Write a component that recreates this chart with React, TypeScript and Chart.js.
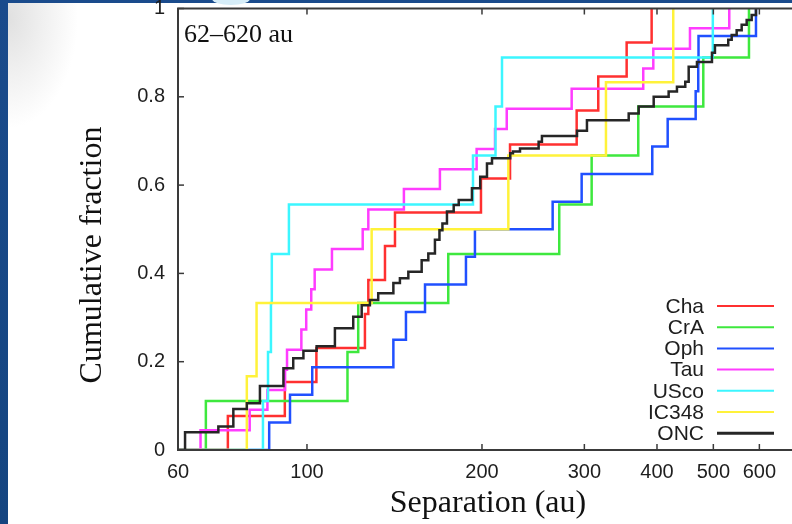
import React, { useEffect, useRef } from "react";
import { Chart, registerables } from "chart.js";

Chart.register(...registerables);

// ---- axis ticks ----
const xTickValues = [60, 100, 200, 300, 400, 500, 600];
const yTickValues = [0, 0.2, 0.4, 0.6, 0.8, 1];
const yTickLabels = ["0", "0.2", "0.4", "0.6", "0.8", "1"];
const xMin = 60;
const xMax = 720;

// ---- series ----
const seriesNames = ["Cha", "CrA", "Oph", "Tau", "USco", "IC348", "ONC"];
const seriesColors = ["#ff3030", "#3ee83e", "#2050ff", "#ff3cff", "#3cf6ff", "#fff23a", "#262626"];

const chaSep = [73.1, 91.6, 103.8, 125.8, 127.5, 136.2, 141.7, 199.2, 223.5, 291.0, 317.0, 354.7, 391.6];
const chaFrac = [0.077, 0.154, 0.231, 0.308, 0.385, 0.462, 0.538, 0.615, 0.692, 0.769, 0.846, 0.923, 1.0];

const craSep = [67.0, 117.4, 122.5, 175.0, 271.6, 308.8, 371.4, 480.5, 575.8];
const craFrac = [0.111, 0.222, 0.333, 0.444, 0.556, 0.667, 0.778, 0.889, 1.0];

const ophSep = [86.1, 93.5, 102.1, 140.8, 148.0, 159.6, 187.7, 194.5, 264.6, 296.8, 392.6, 417.3, 466.2, 471.0, 471.5, 592.0];
const ophFrac = [0.0625, 0.125, 0.1875, 0.25, 0.3125, 0.375, 0.4375, 0.5, 0.5625, 0.625, 0.6875, 0.75, 0.8125, 0.875, 0.9375, 1.0];

const tauSep = [65.6, 79.7, 85.5, 91.7, 92.4, 97.8, 99.7, 101.7, 103.1, 110.4, 124.7, 127.5, 146.8, 169.3, 195.8, 210.6, 220.6, 285.3, 378.8, 394.2, 455.8, 532.6];
const tauFrac = [0.045, 0.091, 0.136, 0.182, 0.227, 0.273, 0.318, 0.364, 0.409, 0.455, 0.5, 0.545, 0.591, 0.636, 0.682, 0.727, 0.773, 0.818, 0.864, 0.909, 0.955, 1.0];

const uscoSep = [84.0, 85.7, 86.7, 87.0, 93.1, 193.0, 211.0, 216.5, 499.0];
const uscoFrac = [0.111, 0.222, 0.333, 0.444, 0.556, 0.667, 0.778, 0.889, 1.0];

const ic348Sep = [78.8, 81.9, 129.2, 222.0, 326.8, 426.6];
const ic348Frac = [0.167, 0.333, 0.5, 0.667, 0.833, 1.0];

const oncSep = [61.7, 70.4, 74.7, 78.8, 83.0, 91.1, 94.7, 98.6, 103.9, 111.7, 120.1, 124.2, 128.3, 132.6, 140.8, 144.5, 149.4, 157.5, 161.7, 166.0, 169.0, 171.0, 174.1, 178.8, 182.4, 192.2, 198.6, 204.0, 208.1, 223.7, 226.1, 232.5, 250.3, 253.6, 291.4, 303.1, 357.6, 372.0, 394.8, 418.9, 432.9, 447.4, 453.5, 468.6, 497.3, 503.2, 530.4, 537.7, 548.4, 559.4, 570.6, 582.0, 592.0];
const oncFrac = [0.040, 0.053, 0.093, 0.106, 0.145, 0.185, 0.208, 0.225, 0.235, 0.276, 0.302, 0.328, 0.340, 0.355, 0.378, 0.389, 0.404, 0.430, 0.445, 0.476, 0.498, 0.513, 0.540, 0.555, 0.566, 0.593, 0.619, 0.649, 0.661, 0.672, 0.676, 0.683, 0.698, 0.711, 0.723, 0.747, 0.762, 0.778, 0.800, 0.812, 0.823, 0.834, 0.868, 0.879, 0.900, 0.917, 0.929, 0.940, 0.951, 0.963, 0.974, 0.985, 1.0];

const seriesSep = [chaSep, craSep, ophSep, tauSep, uscoSep, ic348Sep, oncSep];
const seriesFrac = [chaFrac, craFrac, ophFrac, tauFrac, uscoFrac, ic348Frac, oncFrac];

const rangeNote = "62\u2013620 au";
const xTitle = "Separation (au)";
const yTitle = "Cumulative fraction";

const SANS = '"Liberation Sans", Arial, Helvetica, sans-serif';
const SERIF = '"Liberation Serif", "Times New Roman", serif';
const CANVAS_W = 830;
const CANVAS_H = 524;

const overlayPlugin = {
  id: "overlay",
  afterDatasetsDraw(chart: any) {
    const { ctx, chartArea: a, scales } = chart;
    const x = scales.x;
    const y = scales.y;
    ctx.save();
    ctx.strokeStyle = "#3a3a3a";
    ctx.lineWidth = 2;
    ctx.strokeRect(a.left, a.top, a.right - a.left, a.bottom - a.top);
    ctx.lineWidth = 1.5;
    const seg = (x1: number, y1: number, x2: number, y2: number) => {
      ctx.beginPath();
      ctx.moveTo(x1, y1);
      ctx.lineTo(x2, y2);
      ctx.stroke();
    };
    xTickValues.forEach((v) => {
      const px = x.getPixelForValue(v);
      seg(px, a.bottom, px, a.bottom - 6);
      seg(px, a.top, px, a.top + 6);
    });
    yTickValues.forEach((v) => {
      const py = y.getPixelForValue(v);
      seg(a.left, py, a.left + 6, py);
      seg(a.right, py, a.right - 6, py);
    });
    ctx.restore();
  },
  afterDraw(chart: any) {
    const { ctx, chartArea: a } = chart;
    ctx.save();
    // legend
    ctx.font = `21px ${SANS}`;
    ctx.textAlign = "right";
    ctx.textBaseline = "middle";
    const legendTop = 306;
    const legendStep = 21.2;
    seriesNames.forEach((name, i) => {
      const yy = legendTop + i * legendStep;
      ctx.fillStyle = "#1e1e1e";
      ctx.fillText(name, 704, yy + 1);
      ctx.strokeStyle = seriesColors[i];
      ctx.lineWidth = i === 6 ? 3 : 2;
      ctx.beginPath();
      ctx.moveTo(717, yy);
      ctx.lineTo(774, yy);
      ctx.stroke();
    });
    // range note
    ctx.fillStyle = "#111";
    ctx.textAlign = "left";
    ctx.textBaseline = "alphabetic";
    ctx.font = `26px ${SERIF}`;
    ctx.fillText(rangeNote, a.left + 6, 41.5);
    // x title
    ctx.font = `32px ${SERIF}`;
    ctx.textAlign = "center";
    ctx.fillText(xTitle, 488, 512);
    // y title
    ctx.translate(101, 255);
    ctx.rotate(-Math.PI / 2);
    ctx.fillText(yTitle, 0, 0);
    ctx.restore();
  },
};

export default function App() {
  const canvasRef = useRef<HTMLCanvasElement | null>(null);

  useEffect(() => {
    const canvas = canvasRef.current;
    if (!canvas) return;
    const datasets = seriesNames.map((name, i) => ({
      label: name,
      data: [{ x: xMin, y: 0 }, ...seriesSep[i].map((s, j) => ({ x: s, y: seriesFrac[i][j] }))],
      borderColor: seriesColors[i],
      backgroundColor: seriesColors[i],
      borderWidth: 2.5,
      pointRadius: 0,
      fill: false,
      stepped: "before" as const,
      order: seriesNames.length - 1 - i,
    }));

    const chart = new Chart(canvas, {
      type: "line",
      data: { datasets },
      options: {
        responsive: false,
        animation: false,
        devicePixelRatio: 1,
        layout: { padding: { left: 0, top: 8.5, right: CANVAS_W - 805.4, bottom: 34 } },
        plugins: { legend: { display: false }, tooltip: { enabled: false } },
        scales: {
          x: {
            type: "logarithmic",
            min: xMin,
            max: xMax,
            grid: { display: false, drawTicks: false },
            border: { display: false },
            ticks: {
              autoSkip: false,
              maxRotation: 0,
              padding: 10,
              color: "#1e1e1e",
              font: { family: SANS, size: 20 },
              callback: (v: any) => String(v),
            },
            afterBuildTicks: (s: any) => {
              s.ticks = xTickValues.map((v) => ({ value: v }));
            },
            afterFit: (s: any) => {
              s.height = 40;
              s.paddingLeft = 0;
              s.paddingRight = 0;
            },
          },
          y: {
            type: "linear",
            min: 0,
            max: 1,
            grid: { display: false, drawTicks: false },
            border: { display: false },
            ticks: {
              autoSkip: false,
              padding: 13,
              color: "#1e1e1e",
              font: { family: SANS, size: 20 },
              callback: (v: any) => {
                const k = yTickValues.indexOf(v);
                return k >= 0 ? yTickLabels[k] : "";
              },
            },
            afterBuildTicks: (s: any) => {
              s.ticks = yTickValues.map((v) => ({ value: v }));
            },
            afterFit: (s: any) => {
              s.width = 178;
              s.paddingTop = 0;
              s.paddingBottom = 0;
            },
          },
        },
      } as any,
      plugins: [overlayPlugin],
    });
    return () => chart.destroy();
  }, []);

  return (
    <div
      style={{
        position: "fixed",
        left: 0,
        top: 0,
        width: 792,
        height: 524,
        overflow: "hidden",
        background: "linear-gradient(180deg, #1a4b8c 0%, #154580 100%)",
      }}
    >
      <div
        style={{
          position: "absolute",
          left: 8,
          top: 3,
          right: 0,
          bottom: 0,
          background:
            "radial-gradient(ellipse 70px 110px at 0px 15px, #e0e0e0 0%, #f0f0f0 50%, #ffffff 100%)",
        }}
      />
      <div
        style={{
          position: "absolute",
          left: 212,
          top: -7,
          width: 38,
          height: 12,
          borderRadius: "50%",
          background: "#d6edf8",
        }}
      />
      <canvas
        ref={canvasRef}
        width={CANVAS_W}
        height={CANVAS_H}
        style={{ position: "absolute", left: 0, top: 0, width: CANVAS_W, height: CANVAS_H }}
      />
    </div>
  );
}
